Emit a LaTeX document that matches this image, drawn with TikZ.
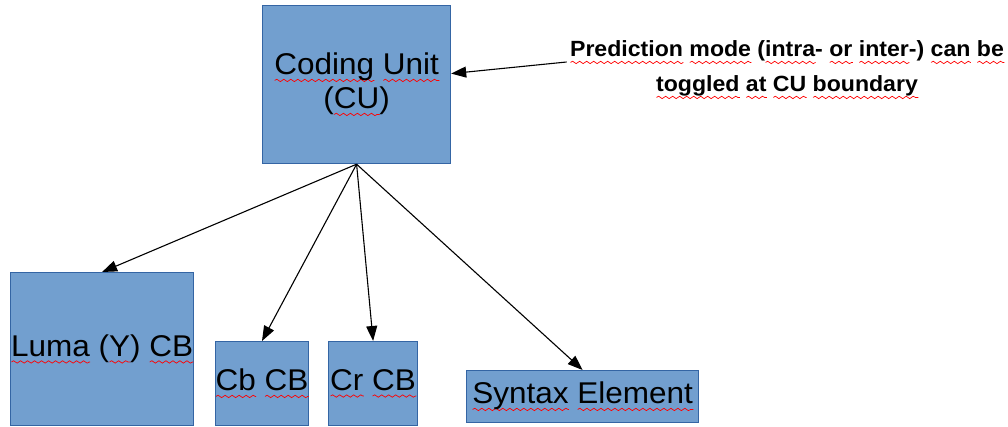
\documentclass[tikz,border=0pt]{standalone}
\usepackage{fontspec}
\setmainfont{Liberation Sans}[FakeStretch=1.05]
\usetikzlibrary{arrows.meta,decorations.pathmorphing}
\definecolor{boxfill}{HTML}{729FCF}
\definecolor{boxline}{HTML}{3465A4}
% red wavy underline, as a spell checker marks words
\newsavebox\wavebox
\newcommand\spellwave[1]{\sbox\wavebox{#1}%
  \rlap{\tikz[baseline=0pt]\draw[red,line width=0.7pt,decorate,
    decoration={snake,amplitude=1.2pt,segment length=7pt}]
    (0pt,-5.5pt) -- (\wd\wavebox,-5.5pt);}\usebox\wavebox}
\begin{document}
\begin{tikzpicture}[x=1pt,y=-1pt,
  block/.style={draw=boxline,fill=boxfill,line width=1.2pt,inner sep=0pt,
    align=center,anchor=north west,font=\fontsize{30}{34}\selectfont},
  link/.style={draw=black,line width=1.1pt,-{Triangle[length=15pt,width=11pt]}},
  note/.style={align=center,font=\bfseries\fontsize{22}{35}\selectfont}
]
\useasboundingbox (0,0) rectangle (1008,427);

\node[block,minimum width=188pt,minimum height=158pt] (cu) at (262,5)
  {\spellwave{Coding} \spellwave{Unit}\\(\spellwave{CU})};
\node[block,minimum width=183pt,minimum height=153pt] (luma) at (10,272)
  {\spellwave{Luma} (\spellwave{Y}) \spellwave{CB}};
\node[block,minimum width=90pt,minimum height=84pt] (cb) at (215,341)
  {\spellwave{Cb} \spellwave{CB}};
\node[block,minimum width=89pt,minimum height=84pt] (cr) at (328,341)
  {\spellwave{Cr} \spellwave{CB}};
\node[block,minimum width=232pt,minimum height=52pt] (syn) at (466,370)
  {\spellwave{Syntax} \spellwave{Element}};

\node[note] (txt) at (787,70)
  {\spellwave{Prediction} \spellwave{mode} (\spellwave{intra}- \spellwave{or} \spellwave{inter}-) \spellwave{can} \spellwave{be}\\
   \spellwave{toggled} \spellwave{at} \spellwave{CU} \spellwave{boundary}};

\draw[link] ([yshift=8pt]txt.west) -- ([yshift=11pt]cu.east);
\draw[link] (cu.south) -- (luma.north);
\draw[link] (cu.south) -- (cb.north);
\draw[link] (cu.south) -- (cr.north);
\draw[link] (cu.south) -- (syn.north);
\end{tikzpicture}
\end{document}
